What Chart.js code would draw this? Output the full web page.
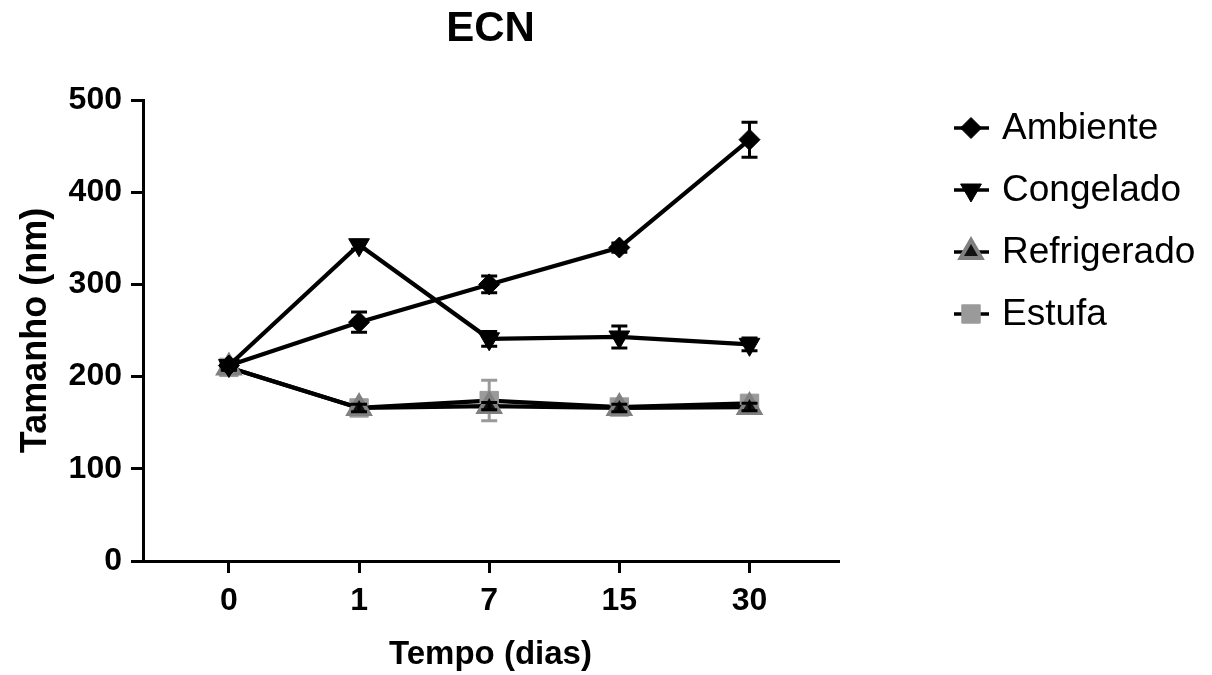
<!DOCTYPE html>
<html>
<head>
<meta charset="utf-8">
<script src="https://cdn.jsdelivr.net/npm/chart.js@4.4.1/dist/chart.umd.min.js"></script>
<style>
  html, body { margin: 0; padding: 0; background: #fff; }
  #wrap { width: 1212px; height: 675px; }
</style>
</head>
<body>
<div id="wrap"><canvas id="ecnChart" width="1212" height="675"></canvas></div>
<script>
// Particle size (nm) over storage time, mean and SD per condition
const days = ['0', '1', '7', '15', '30'];

const ambiente = [212, 259, 300, 340, 457];
const ambienteSd = [4, 11, 9, 5, 19];

const congelado = [212, 343, 241, 243, 235];
const congeladoSd = [4, 5, 8, 12, 7];

const refrigerado = [210, 166, 168, 166, 167];
const refrigeradoSd = [3, 4, 4, 4, 4];

const estufa = [210, 166, 174, 167, 171];
const estufaSd = [3, 4, 22, 4, 5];

const FONT = '"Liberation Sans", Arial, Helvetica, sans-serif';

function toPoints(values) {
  return values.map((v, i) => ({ x: i, y: v }));
}

// vertical SD whiskers with caps, drawn right after each series
const errorBars = {
  id: 'errorBars',
  afterDatasetDraw(chart, args) {
    const ds = chart.data.datasets[args.index];
    if (!ds.sd) return;
    const xs = chart.scales.x;
    const ys = chart.scales.y;
    const ctx = chart.ctx;
    ctx.save();
    ctx.strokeStyle = ds.errColor;
    ctx.lineWidth = 3;
    ds.data.forEach((p, i) => {
      const px = xs.getPixelForValue(p.x);
      const top = ys.getPixelForValue(p.y + ds.sd[i]);
      const bot = ys.getPixelForValue(p.y - ds.sd[i]);
      ctx.beginPath();
      ctx.moveTo(px, top); ctx.lineTo(px, bot);
      ctx.moveTo(px - 8, top); ctx.lineTo(px + 8, top);
      ctx.moveTo(px - 8, bot); ctx.lineTo(px + 8, bot);
      ctx.stroke();
    });
    ctx.restore();
  }
};

// title over the plot area and a line+marker legend on the right
const decorations = {
  id: 'decorations',
  afterDraw(chart) {
    const ctx = chart.ctx;
    const area = chart.chartArea;
    ctx.save();
    ctx.fillStyle = '#000';
    ctx.font = 'bold 42px ' + FONT;
    ctx.textAlign = 'center';
    ctx.textBaseline = 'middle';
    ctx.fillText('ECN', (area.left + area.right) / 2, 29);

    const lx = area.right + 116;
    chart.data.datasets.forEach((ds, i) => {
      const y = 128 + i * 62;
      ctx.strokeStyle = ds.borderColor;
      ctx.lineWidth = 3.5;
      ctx.beginPath();
      ctx.moveTo(lx, y);
      ctx.lineTo(lx + 35, y);
      ctx.stroke();
      ctx.fillStyle = ds.pointBackgroundColor;
      ctx.strokeStyle = ds.pointBorderColor;
      ctx.lineWidth = ds.pointBorderWidth;
      Chart.helpers.drawPoint(ctx, {
        pointStyle: ds.pointStyle,
        radius: ds.pointRadius,
        rotation: ds.pointRotation || 0,
        borderWidth: ds.pointBorderWidth
      }, lx + 17, y);
      ctx.fillStyle = '#000';
      ctx.font = '37px ' + FONT;
      ctx.textAlign = 'left';
      ctx.fillText(ds.label, lx + 48, y + 1);
    });
    ctx.restore();
  }
};

function series(label, values, sd, opts) {
  return Object.assign({
    label: label,
    data: toPoints(values),
    sd: sd,
    errColor: '#000',
    borderColor: '#000',
    borderWidth: 4.2,
    tension: 0,
    pointBorderWidth: 1,
    pointHoverRadius: 0
  }, opts);
}

const datasets = [
  series('Ambiente', ambiente, ambienteSd, {
    pointStyle: 'rectRot', pointRadius: 10.5,
    pointBackgroundColor: '#000', pointBorderColor: '#000'
  }),
  series('Congelado', congelado, congeladoSd, {
    pointStyle: 'triangle', pointRotation: 180, pointRadius: 12,
    pointBackgroundColor: '#000', pointBorderColor: '#000'
  }),
  series('Refrigerado', refrigerado, refrigeradoSd, {
    pointStyle: 'triangle', pointRadius: 12,
    pointBackgroundColor: '#111', pointBorderColor: '#808080', pointBorderWidth: 4
  }),
  series('Estufa', estufa, estufaSd, {
    errColor: '#9a9a9a',
    pointStyle: 'rect', pointRadius: 13,
    pointBackgroundColor: '#9a9a9a', pointBorderColor: '#9a9a9a'
  })
];

const axisGrid = {
  drawOnChartArea: false,
  drawTicks: true,
  tickLength: 12,
  color: '#000',
  lineWidth: 3
};

new Chart(document.getElementById('ecnChart'), {
  type: 'line',
  data: { datasets: datasets },
  plugins: [errorBars, decorations],
  options: {
    responsive: false,
    animation: false,
    devicePixelRatio: 1,
    layout: { padding: { top: 100, right: 374, bottom: 0, left: 0 } },
    plugins: {
      legend: { display: false },
      tooltip: { enabled: false }
    },
    scales: {
      x: {
        type: 'linear',
        min: -0.66,
        max: 4.68,
        afterBuildTicks: (scale) => { scale.ticks = days.map((_, i) => ({ value: i })); },
        afterFit: (scale) => { scale.height = 114; },
        ticks: {
          callback: (v) => days[v],
          color: '#000',
          padding: 9,
          maxRotation: 0,
          font: { family: FONT, size: 32, weight: 'bold' }
        },
        grid: axisGrid,
        border: { color: '#000', width: 3 },
        title: {
          display: true,
          text: 'Tempo (dias)',
          color: '#000',
          padding: { top: 2, bottom: 0 },
          font: { family: FONT, size: 33, weight: 'bold' }
        }
      },
      y: {
        min: 0,
        max: 500,
        afterFit: (scale) => { scale.width = 143; },
        ticks: {
          stepSize: 100,
          color: '#000',
          padding: 9,
          font: { family: FONT, size: 32, weight: 'bold' }
        },
        grid: axisGrid,
        border: { color: '#000', width: 3 },
        title: {
          display: true,
          text: 'Tamanho (nm)',
          color: '#000',
          padding: { top: 14, bottom: 0 },
          font: { family: FONT, size: 36, weight: 'bold' }
        }
      }
    }
  }
});
</script>
</body>
</html>
